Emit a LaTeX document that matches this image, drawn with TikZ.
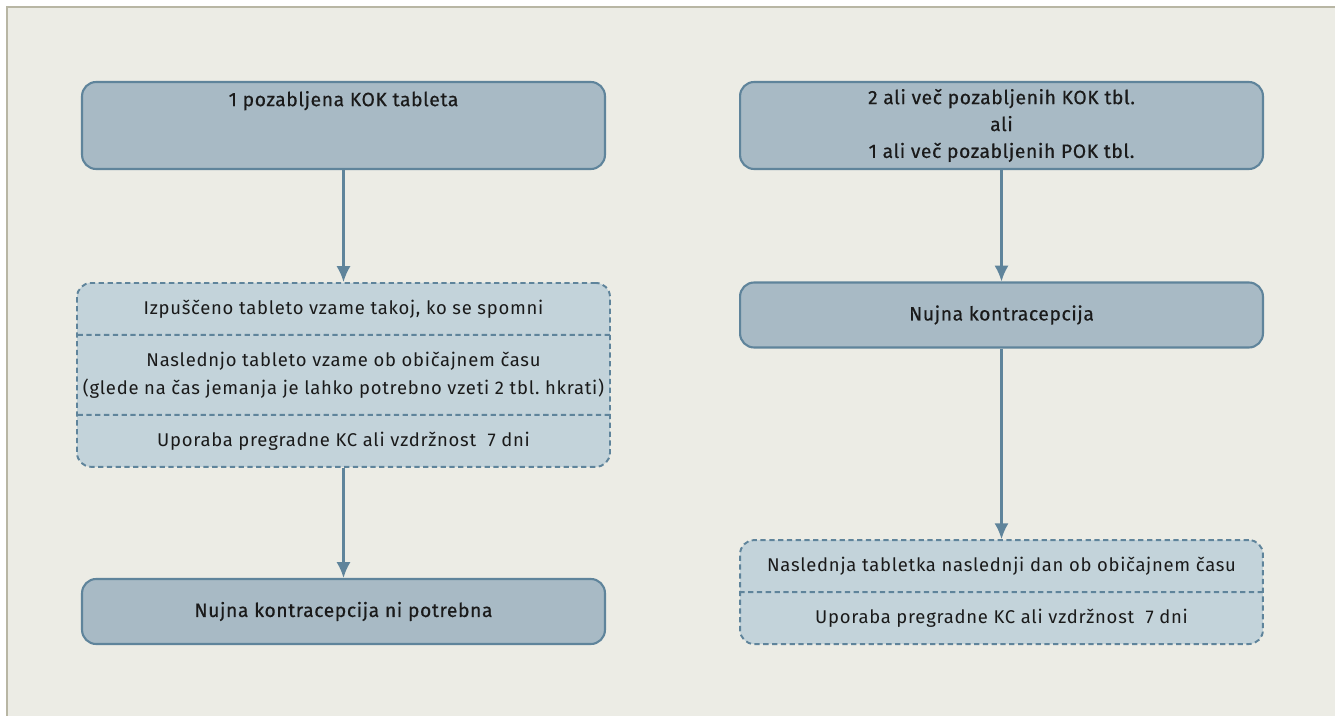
\documentclass[tikz,border=0pt]{standalone}
\usepackage{fontspec}
\setmainfont{Fira Sans}
\newfontfamily\titlefont[LetterSpace=3,FakeBold=0.5]{Fira Sans}
\newfontfamily\notefont[LetterSpace=4]{Fira Sans}
\usetikzlibrary{arrows.meta,shapes.multipart}
\definecolor{bgpaper}{HTML}{ECECE5}
\definecolor{framegray}{HTML}{B8B6A4}
\definecolor{boxblue}{HTML}{A8BAC5}
\definecolor{lightblue}{HTML}{C3D3DA}
\definecolor{edgeblue}{HTML}{5F849B}
\definecolor{inktext}{HTML}{1A1A1A}
\tikzset{
  mainbox/.style={draw=edgeblue, line width=1.2pt, fill=boxblue, rounded corners=8pt,
    minimum width=10.46cm, inner ysep=1pt, align=center, text=inktext,
    font=\titlefont\fontsize{11}{15.3}\selectfont},
  notebox/.style={draw=edgeblue, line width=1.1pt, dash pattern=on 3pt off 2pt,
    fill=lightblue, rounded corners=8pt, rectangle split, rectangle split parts=#1,
    minimum width=10.46cm, inner ysep=9pt, align=center, text=inktext,
    font=\notefont\fontsize{10.5}{15.9}\selectfont},
  flow/.style={->, draw=edgeblue, line width=1.2pt}
}
\begin{document}
\begin{tikzpicture}[x=0.02cm, y=-0.02cm, >={Latex[length=9pt,width=8pt]}]
\useasboundingbox (0,0) rectangle (1335,716);
\fill[white] (0,0) rectangle (1335,716);
\fill[bgpaper] (7,7) rectangle (1335,716);
\draw[framegray, line width=1.5pt] (7,716) -- (7,7) -- (1335,7);

% left branch
\node[mainbox, minimum height=1.74cm] (one) at (343.5,125.5) {1 pozabljena KOK tableta\\ \mbox{}\\ \mbox{}};
\node[notebox=3, anchor=north] (steps) at (343.5,282) {Izpuščeno tableto vzame takoj, ko se spomni
  \nodepart{two} Naslednjo tableto vzame ob običajnem času\\(glede na čas jemanja je lahko potrebno vzeti 2 tbl.\ hkrati)
  \nodepart{three} Uporaba pregradne KC ali vzdržnost\ \ 7 dni};
\node[mainbox, minimum height=1.3cm] (noneed) at (343.5,611.5) {Nujna kontracepcija ni potrebna};

% right branch
\node[mainbox, minimum height=1.74cm] (more) at (1001.5,125.5) {2 ali več pozabljenih KOK tbl.\\ali\\1 ali več pozabljenih POK tbl.};
\node[mainbox, minimum height=1.3cm] (urgent) at (1001.5,315) {Nujna kontracepcija};
\node[notebox=2, anchor=south] (next) at (1001.5,645) {Naslednja tabletka naslednji dan ob običajnem času
  \nodepart{two} Uporaba pregradne KC ali vzdržnost\ \ 7 dni};

\draw[flow] (one.south) -- (steps.north);
\draw[flow] (steps.south) -- (noneed.north);
\draw[flow] (more.south) -- (urgent.north);
\draw[flow] (urgent.south) -- (next.north);
\end{tikzpicture}
\end{document}
